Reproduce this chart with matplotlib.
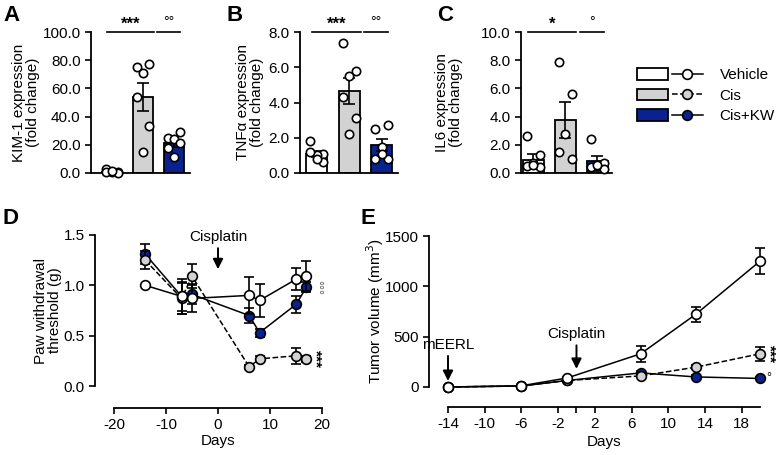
import numpy as np
import matplotlib
matplotlib.use('Agg')
import matplotlib.pyplot as plt
from matplotlib.patches import Patch
from matplotlib.lines import Line2D
from matplotlib.legend_handler import HandlerTuple
from matplotlib.ticker import FormatStrFormatter

plt.rcParams['font.family'] = ['Liberation Sans', 'DejaVu Sans']
plt.rcParams['font.size'] = 11
plt.rcParams['axes.unicode_minus'] = False

# ---- data ----
groups = ['Vehicle', 'Cis', 'Cis+KW']

# A: KIM-1
kim_pts = [[2.5, 0.5, 1.0, 0.5, 0.3, 1.2],
           [75, 77, 71, 54, 33, 15],
           [25, 29, 24, 18, 21, 11]]
kim_mean = [1.0, 54.0, 21.0]
kim_sem = [0.35, 10.0, 2.5]

# B: TNFa
tnf_pts = [[1.8, 1.1, 1.0, 1.2, 0.6, 0.8],
           [7.4, 5.8, 5.5, 4.3, 3.1, 2.2],
           [2.5, 2.7, 1.5, 0.8, 0.8, 1.1]]
tnf_mean = [1.08, 4.65, 1.57]
tnf_sem = [0.17, 0.75, 0.35]

# C: IL6
il6_pts = [[2.6, 1.3, 0.7, 0.5, 0.4, 0.6],
           [7.9, 5.6, 2.8, 1.5, 1.0],
           [2.4, 0.7, 0.5, 0.4, 0.3, 0.6]]
il6_mean = [0.95, 3.75, 0.82]
il6_sem = [0.4, 1.3, 0.38]

# D: paw withdrawal threshold
days_d = [-14, -7, -5, 6, 8, 15, 17]
paw_veh = [1.00, 0.89, 0.87, 0.90, 0.85, 1.06, 1.09]
paw_veh_err = [0.0, 0.17, 0.13, 0.18, 0.16, 0.11, 0.15]
paw_cis = [1.25, 0.87, 1.09, 0.19, 0.27, 0.30, 0.27]
paw_cis_err = [0.09, 0.15, 0.12, 0.02, 0.03, 0.08, 0.03]
paw_kw = [1.31, 0.89, 0.91, 0.70, 0.53, 0.81, 0.98]
paw_kw_err = [0.10, 0.14, 0.10, 0.07, 0.04, 0.08, 0.05]

# E: tumor volume
days_e = [-14, -6, -1, 7, 13, 20]
tum_veh = [0, 12, 90, 330, 722, 1250]
tum_veh_err = [0, 3, 10, 80, 75, 130]
tum_cis = [0, 10, 65, 110, 197, 330]
tum_cis_err = [0, 3, 8, 15, 20, 70]
tum_kw = [0, 10, 65, 140, 100, 85]
tum_kw_err = [0, 3, 8, 20, 15, 10]

# ---- style ----
navy = '#0a2190'
grey = '#d2d2d2'
fills = ['white', grey, navy]
W, H = 777, 455

fig = plt.figure(figsize=(W / 100, H / 100), dpi=100)


def px_axes(l, t, r, b):
    return fig.add_axes([l / W, 1 - b / H, (r - l) / W, (b - t) / H])


def style_axes(ax):
    for s in ['top', 'right']:
        ax.spines[s].set_visible(False)
    for s in ['left', 'bottom']:
        ax.spines[s].set_linewidth(1.3)
    ax.tick_params(width=1.2, length=4, labelsize=11)


def bar_panel(ax, pts, means, sems, ymax, step, xlim, ylabel, lab_x, sig):
    x = np.arange(3)
    ax.bar(x, means, width=0.65, color=fills, edgecolor='k', lw=1.3, zorder=1)
    ax.errorbar(x, means, yerr=sems, fmt='none', ecolor='k', elinewidth=1.2,
                capsize=4, capthick=1.2, zorder=2)
    for i, p in enumerate(pts):
        offs = np.tile([-0.2, 0.2, 0.0], 3)[:len(p)]
        ax.plot(i + offs, p, 'o', mfc='white', mec='k', ms=6, mew=1.2,
                zorder=3, clip_on=False)
    style_axes(ax)
    ax.set_xlim(*xlim)
    ax.set_ylim(0, ymax)
    ax.set_xticks([])
    ax.set_yticks(np.arange(0, ymax + step / 2, step))
    ax.yaxis.set_major_formatter(FormatStrFormatter('%.1f'))
    ax.set_ylabel(ylabel, fontsize=11, linespacing=1.0)
    ax.yaxis.set_label_coords(lab_x, 0.5)
    # significance lines
    for (a, b), s in zip([(-0.15, 1.35), (1.45, 2.2)], sig):
        ax.plot([a, b], [ymax, ymax], 'k-', lw=1.2, clip_on=False)
        if '*' in s:
            ax.text((a + b) / 2, ymax * 1.005, s, ha='center', va='bottom',
                    fontsize=12, fontweight='bold')
        else:
            ax.text((a + b) / 2, ymax * 1.02, s, ha='center', va='bottom',
                    fontsize=10)


axA = px_axes(91, 32, 190, 173)
bar_panel(axA, kim_pts, kim_mean, kim_sem, 100, 20, (-0.68, 2.51),
          'KIM-1 expression\n(fold change)', -0.52, ['***', '°°'])
axB = px_axes(300, 32, 398, 173)
bar_panel(axB, tnf_pts, tnf_mean, tnf_sem, 8, 2, (-0.52, 2.5),
          'TNFα expression\n(fold change)', -0.37, ['***', '°°'])
axC = px_axes(521, 32, 612, 173)
bar_panel(axC, il6_pts, il6_mean, il6_sem, 10, 2, (-0.38, 2.46),
          'IL6 expression\n(fold change)', -0.64, ['*', '°'])

# legend
handles = []
for fc, ls, mfc in [('white', '-', 'white'), (grey, '--', grey), (navy, '-', navy)]:
    handles.append((Patch(fc=fc, ec='k', lw=1.3),
                    Line2D([], [], color='k', ls=ls, lw=1.1, marker='o',
                           mfc=mfc, mec='k', ms=7, mew=1.2)))
fig.legend(handles=handles, labels=groups,
           handler_map={tuple: HandlerTuple(ndivide=None, pad=0.25)},
           loc='upper left', bbox_to_anchor=(637 / W, 1 - 68 / H),
           frameon=False, handlelength=4.3, handleheight=0.8,
           handletextpad=1.1, labelspacing=0.42, borderaxespad=0, borderpad=0,
           fontsize=11)


def line_group(ax, x, y, e, fc, ls, z):
    c = ax.errorbar(x, y, yerr=e, fmt='o', ls=ls, color='k', lw=1.1,
                    mfc=fc, mec='k', ms=7, mew=1.2, ecolor='k',
                    elinewidth=1.2, capsize=3.5, capthick=1.2, zorder=z)
    for a in c.get_children():
        a.set_clip_on(False)


arrow = dict(arrowstyle='-|>', color='k', lw=1.4, mutation_scale=15,
             shrinkA=1, shrinkB=0)

# D
axD = px_axes(114, 235, 322, 386)
line_group(axD, days_d, paw_kw, paw_kw_err, navy, '-', 3)
line_group(axD, days_d, paw_cis, paw_cis_err, grey, '--', 4)
line_group(axD, days_d, paw_veh, paw_veh_err, 'white', '-', 5)
style_axes(axD)
axD.spines['left'].set_position(('outward', 13.7))
axD.spines['bottom'].set_position(('outward', 15.8))
axD.set_xlim(-20, 20)
axD.set_ylim(0, 1.5)
axD.set_xticks([-20, -10, 0, 10, 20])
axD.set_yticks([0, 0.5, 1.0, 1.5])
axD.yaxis.set_major_formatter(FormatStrFormatter('%.1f'))
axD.set_ylabel('Paw withdrawal\nthreshold (g)', linespacing=1.0)
axD.yaxis.set_label_coords(-0.25, 0.5)
axD.set_xlabel('Days')
axD.xaxis.set_label_coords(0.5, -0.32)
axD.annotate('Cisplatin', xy=(0, 1.16), xytext=(0, 1.48), ha='center',
             va='center', arrowprops=arrow)
axD.text(18.8, 0.98, '°°°', rotation=-90, ha='center', va='center',
         fontsize=9, color='#555555')
axD.text(18.8, 0.27, '***', rotation=-90, ha='center', va='center',
         fontsize=11, fontweight='bold')

# E
axE = px_axes(448, 236, 760, 387)
line_group(axE, days_e, tum_kw, tum_kw_err, navy, '-', 3)
line_group(axE, days_e, tum_cis, tum_cis_err, grey, '--', 4)
line_group(axE, days_e, tum_veh, tum_veh_err, 'white', '-', 5)
style_axes(axE)
axE.spines['left'].set_position(('outward', 13.7))
axE.spines['bottom'].set_position(('outward', 14.4))
axE.set_xlim(-14, 20)
axE.set_ylim(0, 1500)
axE.set_xticks([-14, -10, -6, -2, 2, 6, 10, 14, 18])
axE.set_xticks([0], minor=True)
axE.tick_params(axis='x', which='minor', length=4, width=1.2)
axE.set_yticks([0, 500, 1000, 1500])
axE.set_ylabel('Tumor volume (mm$^3$)')
axE.yaxis.set_label_coords(-0.2, 0.5)
axE.set_xlabel('Days')
axE.xaxis.set_label_coords(0.5, -0.32)
axE.annotate('Cisplatin', xy=(0, 180), xytext=(0, 525), ha='center',
             va='center', arrowprops=arrow)
axE.annotate('mEERL', xy=(-14, 60), xytext=(-14, 420), ha='center',
             va='center', arrowprops=arrow)
axE.text(21.0, 330, '***', rotation=-90, ha='center', va='center',
         fontsize=11, fontweight='bold')
axE.text(21.0, 85, '°', ha='center', va='center', fontsize=9)

# panel letters
for lab, x, y in [('A', 3, 5), ('B', 227, 5), ('C', 437, 5), ('D', 3, 208), ('E', 360, 208)]:
    fig.text(x / W, 1 - y / H, lab, fontsize=16, fontweight='bold',
             ha='left', va='top')

fig.savefig('out.png', dpi=100)
